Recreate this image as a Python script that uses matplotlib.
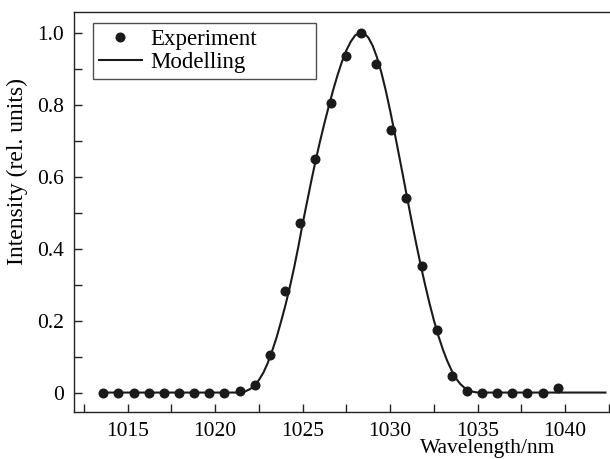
import matplotlib
matplotlib.use("Agg")
import matplotlib.pyplot as plt
from matplotlib.ticker import MultipleLocator, FixedFormatter, FixedLocator

plt.rcParams["font.family"] = ["Liberation Serif", "DejaVu Serif"]

# Experimental points (wavelength in nm, normalised intensity)
exp_wl = [1013.61, 1014.47, 1015.34, 1016.20, 1017.07, 1017.93, 1018.80, 1019.66,
          1020.53, 1021.40, 1022.26, 1023.13, 1024.00, 1024.86, 1025.73, 1026.59,
          1027.46, 1028.32, 1029.19, 1030.05, 1030.92, 1031.79, 1032.65, 1033.52,
          1034.38, 1035.25, 1036.11, 1036.98, 1037.84, 1038.71, 1039.58]
exp_int = [0.0, 0.0, 0.0, 0.0, 0.0, 0.0, 0.0, 0.0,
           0.0, 0.003, 0.022, 0.105, 0.283, 0.471, 0.648, 0.805,
           0.935, 1.0, 0.912, 0.728, 0.540, 0.352, 0.174, 0.045,
           0.004, 0.0, 0.0, 0.0, 0.0, 0.0, 0.012]

# Model curve
mod_wl = [1013.6, 1021.25, 1021.5, 1021.75, 1022.0, 1022.25, 1022.5, 1022.75,
          1023.0, 1023.25, 1023.5, 1023.75, 1024.0, 1024.25, 1024.5, 1024.75,
          1025.0, 1025.25, 1025.5, 1025.75, 1026.0, 1026.25, 1026.5, 1026.75,
          1027.0, 1027.25, 1027.5, 1027.75, 1028.0, 1028.25, 1028.5, 1028.75,
          1029.0, 1029.25, 1029.5, 1029.75, 1030.0, 1030.25, 1030.5, 1030.75,
          1031.0, 1031.25, 1031.5, 1031.75, 1032.0, 1032.25, 1032.5, 1032.75,
          1033.0, 1033.25, 1033.5, 1033.75, 1034.0, 1034.25, 1034.5, 1034.75,
          1035.0, 1042.3]
mod_int = [0.0, 0.0, 0.001, 0.004, 0.010, 0.020, 0.035, 0.055,
           0.082, 0.115, 0.152, 0.195, 0.240, 0.290, 0.345, 0.405,
           0.470, 0.530, 0.590, 0.647, 0.700, 0.750, 0.797, 0.842,
           0.883, 0.920, 0.951, 0.975, 0.992, 1.000, 0.998, 0.986,
           0.963, 0.930, 0.888, 0.838, 0.782, 0.722, 0.660, 0.597,
           0.533, 0.470, 0.410, 0.352, 0.298, 0.247, 0.200, 0.158,
           0.121, 0.089, 0.062, 0.040, 0.024, 0.013, 0.006, 0.002,
           0.0, 0.0]

y_ticks = [0, 0.2, 0.4, 0.6, 0.8, 1.0]
y_tick_labels = ["0", "0.2", "0.4", "0.6", "0.8", "1.0"]

fig = plt.figure(figsize=(6.1, 4.59), dpi=100)
ax = fig.add_axes([0.1213, 0.1024, 0.8787, 0.8715])

ax.plot(mod_wl, mod_int, color="#1a1a1a", linewidth=1.5, label="Modelling", zorder=2)
ax.plot(exp_wl, exp_int, "o", color="#1a1a1a", markersize=6.2, label="Experiment", zorder=3)

ax.set_xlim(1011.93, 1042.56)
ax.set_ylim(-0.054, 1.057)

ax.xaxis.set_major_locator(MultipleLocator(5))
ax.xaxis.set_minor_locator(MultipleLocator(2.5))
ax.yaxis.set_major_locator(FixedLocator(y_ticks))
ax.yaxis.set_major_formatter(FixedFormatter(y_tick_labels))
ax.yaxis.set_minor_locator(MultipleLocator(0.1))
ax.tick_params(which="both", direction="in", length=6, width=1.0, color="#222222",
               labelsize=15.5, top=False, right=False)
ax.tick_params(axis="x", pad=7)
ax.tick_params(axis="y", pad=7)

ax.spines["right"].set_visible(False)
for s in ["left", "top", "bottom"]:
    ax.spines[s].set_linewidth(1.0)
    ax.spines[s].set_color("#222222")

ax.set_ylabel("Intensity (rel. units)", fontsize=17)
ax.yaxis.set_label_coords(-0.086, 0.6)
ax.set_xlabel("Wavelength/nm", fontsize=15.5)
ax.xaxis.set_label_coords(0.771, -0.0675)

handles, labels = ax.get_legend_handles_labels()
leg = ax.legend(handles[::-1], labels[::-1], loc="upper left",
                bbox_to_anchor=(0.0354, 0.83, 0.416, 0.1425), mode="expand",
                fontsize=16.5, frameon=True, fancybox=False, edgecolor="#222222",
                borderpad=0.25, labelspacing=0.1, handlelength=1.9,
                handletextpad=0.35, borderaxespad=0)
leg.get_frame().set_linewidth(1.0)

fig.savefig("out.png", dpi=100)
